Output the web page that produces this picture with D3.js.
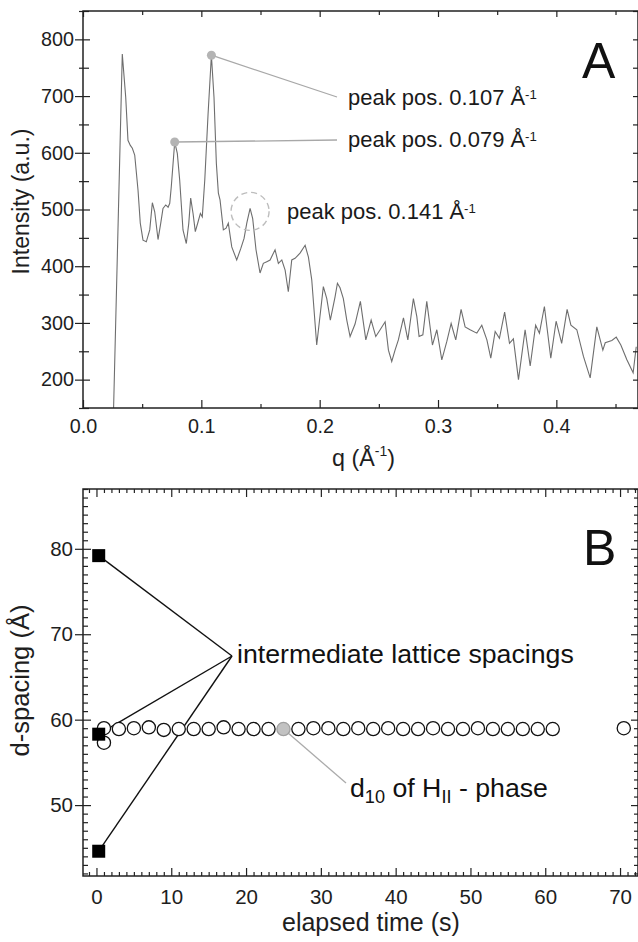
<!DOCTYPE html>
<html>
<head>
<meta charset="utf-8">
<script src="https://cdn.jsdelivr.net/npm/d3@7"></script>
<style>
  body { margin: 0; background: #fff; }
  text { font-family: "Liberation Sans", Arial, sans-serif; }
</style>
</head>
<body>
<div id="chart"></div>
<script>
// panel A: scattering curve (q in 1/A, intensity a.u.)
var qValues = [0.0255, 0.0332, 0.0361, 0.0380, 0.0400, 0.0417, 0.0437, 0.0465, 0.0484, 0.0507,
  0.0535, 0.0564, 0.0586, 0.0606, 0.0634, 0.0657, 0.0676, 0.0699, 0.0719, 0.0733,
  0.0746, 0.0775, 0.0797, 0.0817, 0.0845, 0.0873, 0.0894, 0.0910, 0.0930, 0.0949,
  0.0972, 0.0992, 0.1008, 0.1029, 0.1057, 0.1085, 0.1107, 0.1127, 0.1144, 0.1158,
  0.1186, 0.1209, 0.1228, 0.1257, 0.1299, 0.1333, 0.1361, 0.1384, 0.1412, 0.1434,
  0.1462, 0.1496, 0.1524, 0.1553, 0.1581, 0.1623, 0.1651, 0.1680, 0.1708, 0.1735,
  0.1764, 0.1792, 0.1834, 0.1877, 0.1905, 0.1933, 0.1975, 0.2031, 0.2060, 0.2090,
  0.2130, 0.2150, 0.2172, 0.2200, 0.2229, 0.2257, 0.2299, 0.2344, 0.2390, 0.2435,
  0.2474, 0.2511, 0.2553, 0.2581, 0.2609, 0.2637, 0.2665, 0.2708, 0.2745, 0.2792,
  0.2821, 0.2840, 0.2872, 0.2905, 0.2953, 0.2990, 0.3032, 0.3074, 0.3111, 0.3150,
  0.3195, 0.3229, 0.3271, 0.3328, 0.3370, 0.3413, 0.3446, 0.3483, 0.3519, 0.3563,
  0.3604, 0.3637, 0.3680, 0.3736, 0.3779, 0.3825, 0.3857, 0.3899, 0.3953, 0.3998,
  0.4045, 0.4091, 0.4123, 0.4173, 0.4229, 0.4286, 0.4342, 0.4393, 0.4413, 0.4469,
  0.4506, 0.4545, 0.4596, 0.4649, 0.4675]
var intensity = [120, 774, 698, 622, 613, 608, 596, 534, 476, 446,
  443, 464, 512, 496, 447, 476, 502, 508, 504, 511,
  540, 619, 599, 552, 464, 440, 476, 520, 493, 461,
  478, 493, 487, 552, 669, 772, 698, 581, 529, 517,
  464, 467, 476, 434, 411, 431, 449, 476, 502, 484,
  429, 388, 405, 408, 411, 429, 405, 411, 393, 355,
  411, 414, 423, 437, 416, 376, 261, 364, 343, 305,
  346, 370, 362, 343, 305, 276, 298, 338, 270, 305,
  276, 288, 302, 252, 232, 252, 270, 309, 270, 343,
  311, 276, 279, 338, 261, 288, 235, 267, 299, 270,
  324, 293, 288, 282, 296, 270, 238, 285, 273, 319,
  264, 272, 200, 288, 224, 296, 282, 329, 238, 303,
  264, 324, 296, 288, 241, 203, 293, 252, 265, 269,
  275, 261, 235, 212, 258]

var peakQ = [0.1085, 0.0775]
var peakI = [772, 619]
var peakLabels = ["0.107", "0.079"]
var circledPeakQ = 0.1412
var circledPeakI = 502
var circledLabel = "0.141"

// panel B: d-spacing vs elapsed time
var hexTimes = [1, 1, 3, 5, 7, 9, 11, 13, 15, 17, 19, 21, 23, 25, 27, 29, 31, 33, 35, 37, 39,
  41, 43, 45, 47, 49, 51, 53, 55, 57, 59, 61, 70.5]
var hexSpacing = [59.0, 57.3, 58.9, 59.0, 59.1, 58.8, 58.9, 58.9, 58.9, 59.1, 58.9, 58.9, 58.9,
  58.9, 58.9, 59.0, 59.0, 58.9, 59.0, 58.9, 59.0, 58.9, 58.9, 59.0, 58.9, 58.9, 59.0, 58.9,
  58.9, 58.9, 58.9, 58.9, 59.0]
var highlightTime = 25
var interTimes = [0.3, 0.3, 0.3]
var interSpacing = [79.2, 58.3, 44.6]

var W = 638, H = 942
var svg = d3.select("#chart").append("svg")
  .attr("width", W)
  .attr("height", H)

// size a font so a digit is as wide as in the picture
var probe = svg.append("text").attr("font-size", 100).text("0000000000")
var digitEm = probe.node().getComputedTextLength() / 1000
probe.remove()
function digitFont(px) { return px / digitEm }

// scale a text's font so its whole width matches the picture
function fitWidth(sel, target) {
  var w = sel.node().getComputedTextLength()
  var fs = parseFloat(sel.attr("font-size"))
  if (w > 0) sel.attr("font-size", fs * target / w)
  return sel
}

function ticksOn(g, scale, side, values, outLen, inLen, labels, fontSize, pad) {
  var axis
  if (side == "left") axis = d3.axisLeft(scale)
  if (side == "right") axis = d3.axisRight(scale)
  if (side == "top") axis = d3.axisTop(scale)
  if (side == "bottom") axis = d3.axisBottom(scale)
  axis.tickValues(values).tickSize(outLen).tickPadding(pad || 2)
  axis.tickFormat(labels ? labels : function () { return "" })
  g.call(axis)
  g.select(".domain").remove()
  g.attr("font-family", null)
  g.selectAll("line").attr("stroke", "#222").attr("stroke-width", 1.2)
  var sign = (side == "left" || side == "top") ? 1 : -1
  if (side == "left" || side == "right") {
    g.selectAll("line").attr("x1", sign * inLen)
  } else {
    g.selectAll("line").attr("y1", sign * inLen)
  }
  g.selectAll("text").attr("font-size", fontSize).attr("fill", "#1e1e1e")
}

function range(a, b, step, skip) {
  var out = []
  for (var v = a; v <= b + 1e-9; v += step) {
    var r = Math.round(v * 1000) / 1000
    if (skip && skip(r)) continue
    out.push(r)
  }
  return out
}

// ---------- panel A ----------
var A = { l: 83, t: 11, r: 638, b: 408 }
var xA = d3.scaleLinear().domain([0, 0.469]).range([A.l, A.r])
var yA = d3.scaleLinear().domain([150, 850]).range([A.b, A.t])

svg.append("clipPath").attr("id", "clipA").append("rect")
  .attr("x", A.l).attr("y", A.t).attr("width", A.r - A.l).attr("height", A.b - A.t)

var line = d3.line()
  .x(function (d, i) { return xA(qValues[i]) })
  .y(function (d) { return yA(d) })

svg.append("path")
  .datum(intensity)
  .attr("clip-path", "url(#clipA)")
  .attr("d", line)
  .attr("fill", "none")
  .attr("stroke", "#6e6e6e")
  .attr("stroke-width", 1.1)

var majorQ = [0, 0.1, 0.2, 0.3, 0.4]
var minorQ = [0.05, 0.15, 0.25, 0.35, 0.45]
var majorI = [200, 300, 400, 500, 600, 700, 800]
var minorI = [150, 250, 350, 450, 550, 650, 750, 850]
var fontA = digitFont(11)
var fontB = digitFont(11.4)

ticksOn(svg.append("g").attr("transform", "translate(0," + A.b + ")"), xA, "bottom", majorQ, 0, 8,
  d3.format(".1f"), fontA, 11)
ticksOn(svg.append("g").attr("transform", "translate(0," + A.b + ")"), xA, "bottom", minorQ, 0, 4)
ticksOn(svg.append("g").attr("transform", "translate(0," + A.t + ")"), xA, "top", majorQ, 0, 6)
ticksOn(svg.append("g").attr("transform", "translate(0," + A.t + ")"), xA, "top", minorQ, 0, 4)
ticksOn(svg.append("g").attr("transform", "translate(" + A.l + ",0)"), yA, "left", majorI, 8, 7,
  d3.format("d"), fontA, 1)
ticksOn(svg.append("g").attr("transform", "translate(" + A.l + ",0)"), yA, "left", minorI, 4, 6)
ticksOn(svg.append("g").attr("transform", "translate(" + A.r + ",0)"), yA, "right", majorI.concat(minorI), 0, 5)

svg.append("rect")
  .attr("x", A.l).attr("y", A.t).attr("width", A.r - A.l).attr("height", A.b - A.t)
  .attr("fill", "none").attr("stroke", "#222").attr("stroke-width", 1.5)

// peak annotations
var labelX = 348
var labelY = [105, 147]
var lineEnd = [[337, 97], [337, 140]]
peakQ.forEach(function (q, i) {
  svg.append("line")
    .attr("x1", xA(q)).attr("y1", yA(peakI[i]))
    .attr("x2", lineEnd[i][0]).attr("y2", lineEnd[i][1])
    .attr("stroke", "#a8a8a8").attr("stroke-width", 1.3)
  svg.append("circle")
    .attr("cx", xA(q)).attr("cy", yA(peakI[i])).attr("r", 4.5)
    .attr("fill", "#b4b4b4")
})

function peakText(x, y, value) {
  var t = svg.append("text").attr("x", x).attr("y", y)
    .attr("font-size", 22).attr("fill", "#1a1a1a")
  t.append("tspan").text("peak pos. " + value + " Å")
  t.append("tspan").attr("font-size", "0.6em").attr("dy", "-0.42em").text("-1")
  fitWidth(t, 189)
}
peakLabels.forEach(function (v, i) { peakText(labelX, labelY[i], v) })

svg.append("circle")
  .attr("cx", xA(circledPeakQ)).attr("cy", yA(circledPeakI) + 3).attr("r", 19)
  .attr("fill", "none").attr("stroke", "#bdbdbd").attr("stroke-width", 1.4)
  .attr("stroke-dasharray", "6,4")
peakText(287, 219, circledLabel)

svg.append("text").attr("x", 582).attr("y", 78)
  .attr("font-size", 50).attr("fill", "#111").text("A")

var qTitle = svg.append("text")
  .attr("x", 332).attr("y", 466)
  .attr("font-size", 24).attr("fill", "#1e1e1e")
qTitle.append("tspan").text("q (Å")
qTitle.append("tspan").attr("font-size", "0.6em").attr("dy", "-0.7em").text("-1")
qTitle.append("tspan").attr("dy", "0.42em").text(")")
fitWidth(qTitle, 63)

var yTitleA = svg.append("text")
  .attr("transform", "translate(29," + ((A.t + A.b) / 2 - 8) + ") rotate(-90)")
  .attr("text-anchor", "middle").attr("font-size", 23).attr("fill", "#1e1e1e")
  .text("Intensity (a.u.)")
fitWidth(yTitleA, 146)

// ---------- panel B ----------
var B = { l: 83, t: 489, r: 638, b: 876 }
var xB = d3.scaleLinear().domain([-1.8, 72.4]).range([B.l, B.r])
var yB = d3.scaleLinear().domain([41.7, 87]).range([B.b, B.t])

var majorT = range(0, 70, 10)
var minorT = range(-1, 72, 1, function (v) { return v % 10 == 0 })
var majorD = [50, 60, 70, 80]
var minorD = range(42, 87, 1, function (v) { return v % 10 == 0 })

ticksOn(svg.append("g").attr("transform", "translate(0," + B.b + ")"), xB, "bottom", majorT, 0, 8,
  d3.format("d"), fontB, 13)
ticksOn(svg.append("g").attr("transform", "translate(0," + B.b + ")"), xB, "bottom", minorT, 0, 4)
ticksOn(svg.append("g").attr("transform", "translate(0," + B.t + ")"), xB, "top", majorT, 0, 8)
ticksOn(svg.append("g").attr("transform", "translate(0," + B.t + ")"), xB, "top", minorT, 0, 4)
ticksOn(svg.append("g").attr("transform", "translate(" + B.l + ",0)"), yB, "left", majorD, 8, 8,
  d3.format("d"), fontB, 2)
ticksOn(svg.append("g").attr("transform", "translate(" + B.l + ",0)"), yB, "left", minorD, 0, 5)
ticksOn(svg.append("g").attr("transform", "translate(" + B.r + ",0)"), yB, "right", majorD, 0, 7)
ticksOn(svg.append("g").attr("transform", "translate(" + B.r + ",0)"), yB, "right", minorD, 0, 4)

svg.append("rect")
  .attr("x", B.l).attr("y", B.t).attr("width", B.r - B.l).attr("height", B.b - B.t)
  .attr("fill", "none").attr("stroke", "#222").attr("stroke-width", 1.5)

// connector lines for intermediate spacings
var apex = [232, 656]
interSpacing.forEach(function (d, i) {
  svg.append("line")
    .attr("x1", apex[0]).attr("y1", apex[1])
    .attr("x2", xB(interTimes[i])).attr("y2", yB(d))
    .attr("stroke", "#111").attr("stroke-width", 1.4)
})

// grey leader to highlighted H_II point
var hi = hexTimes.indexOf(highlightTime)
svg.append("line")
  .attr("x1", xB(highlightTime)).attr("y1", yB(hexSpacing[hi]))
  .attr("x2", 346).attr("y2", 783)
  .attr("stroke", "#ababab").attr("stroke-width", 1.3)

svg.append("g").selectAll("circle")
  .data(hexTimes)
  .enter()
  .append("circle")
  .attr("cx", function (d) { return xB(d) })
  .attr("cy", function (d, i) { return yB(hexSpacing[i]) })
  .attr("r", 6.6)
  .attr("fill", function (d) { return d == highlightTime ? "#c2c2c2" : "#fff" })
  .attr("stroke", function (d) { return d == highlightTime ? "#a0a0a0" : "#111" })
  .attr("stroke-width", 1.3)

svg.append("g").selectAll("rect")
  .data(interTimes)
  .enter()
  .append("rect")
  .attr("x", function (d) { return xB(d) - 6.5 })
  .attr("y", function (d, i) { return yB(interSpacing[i]) - 6.5 })
  .attr("width", 13)
  .attr("height", 13)
  .attr("fill", "#000")

var interText = svg.append("text").attr("x", 237).attr("y", 663)
  .attr("font-size", 26).attr("fill", "#111").text("intermediate lattice spacings")
fitWidth(interText, 337)

var dText = svg.append("text").attr("x", 350).attr("y", 797)
  .attr("font-size", 25).attr("fill", "#111")
dText.append("tspan").text("d")
dText.append("tspan").attr("font-size", "0.68em").attr("dy", "0.35em").text("10")
dText.append("tspan").attr("dy", "-0.24em").text(" of H")
dText.append("tspan").attr("font-size", "0.68em").attr("dy", "0.35em").text("II")
dText.append("tspan").attr("dy", "-0.24em").text(" - phase")
fitWidth(dText, 198)

svg.append("text").attr("x", 583).attr("y", 565)
  .attr("font-size", 50).attr("fill", "#111").text("B")

var xTitleB = svg.append("text")
  .attr("x", 282).attr("y", 931)
  .attr("font-size", 25).attr("fill", "#1e1e1e")
  .text("elapsed time (s)")
fitWidth(xTitleB, 178)

var yTitleB = svg.append("text")
  .attr("transform", "translate(29," + ((B.t + B.b) / 2 - 2) + ") rotate(-90)")
  .attr("text-anchor", "middle").attr("font-size", 25).attr("fill", "#1e1e1e")
  .text("d-spacing (Å)")
fitWidth(yTitleB, 152)
</script>
</body>
</html>
